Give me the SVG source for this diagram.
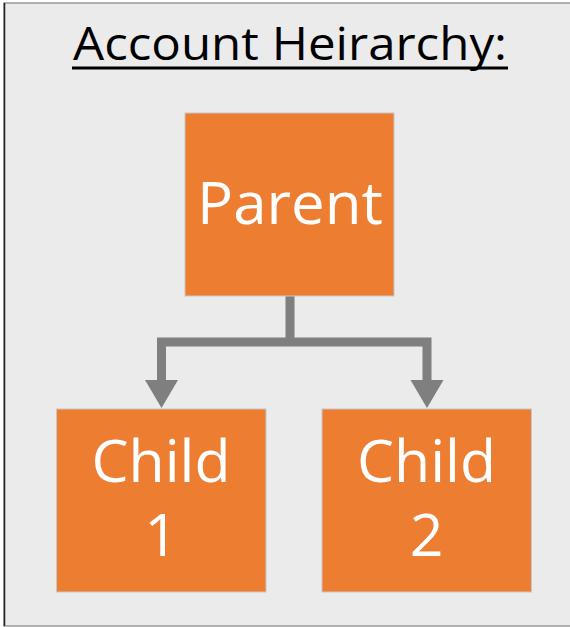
<svg xmlns="http://www.w3.org/2000/svg" width="570" height="627" viewBox="0 0 570 627">
<style>
.box{fill:#ED7D31;stroke:#c8c8c8;stroke-width:1}
.lbl{font-family:"Open Sans","Liberation Sans",sans-serif;font-size:59px;fill:#ffffff;text-anchor:middle}
.conn{fill:none;stroke:#7f7f7f;stroke-width:9;stroke-linejoin:miter}
.head{fill:#7f7f7f}
</style>
<rect x="0" y="0" width="570" height="627" fill="#ffffff"/>
<rect x="4" y="3" width="570" height="623" fill="#ebebeb" stroke="#9a9a9a" stroke-width="1.5"/>
<line x1="4.5" y1="3" x2="4.5" y2="626" stroke="#222" stroke-width="1.5"/>
<g id="title">
<text x="290" y="60" font-family="'Open Sans','Liberation Sans',sans-serif" font-size="46" fill="#000" text-anchor="middle" textLength="434" lengthAdjust="spacingAndGlyphs">Account Heirarchy:</text>
<rect x="72" y="66.5" width="436" height="3" fill="#000"/>
</g>
<g id="connectors">
<path class="conn" d="M290 292 V342 M161.5 381 V342 H427 V381"/>
<polygon class="head" points="145,380 178,380 161.5,408"/>
<polygon class="head" points="410.5,380 443.5,380 427,408"/>
</g>
<g id="parent">
<rect class="box" x="185" y="113" width="209" height="183"/>
<text class="lbl" x="290" y="224" textLength="186" lengthAdjust="spacingAndGlyphs">Parent</text>
</g>
<g id="child1">
<rect class="box" x="56.5" y="409" width="209.5" height="183"/>
<text class="lbl" x="161" y="482" textLength="139" lengthAdjust="spacingAndGlyphs">Child</text>
<text class="lbl" x="161" y="556">1</text>
</g>
<g id="child2">
<rect class="box" x="322" y="409" width="209.5" height="183"/>
<text class="lbl" x="426.5" y="482" textLength="139" lengthAdjust="spacingAndGlyphs">Child</text>
<text class="lbl" x="426.5" y="556">2</text>
</g>
</svg>
